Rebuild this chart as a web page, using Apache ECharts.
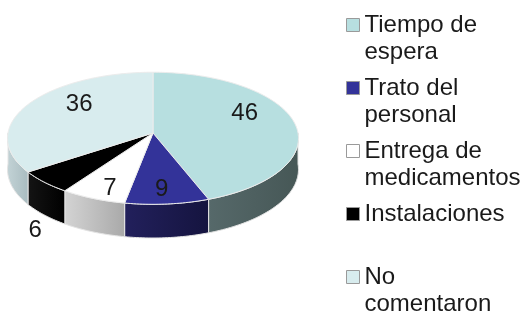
<!DOCTYPE html>
<html><head><meta charset="utf-8">
<script src="https://cdn.jsdelivr.net/npm/echarts@6/dist/echarts.min.js"></script>
<style>html,body{margin:0;padding:0;background:#fff}#c{width:529px;height:311px}</style>
</head><body><div id="c"></div>
<script>
// ---- data ----
const categories = ['Tiempo de espera', 'Trato del personal', 'Entrega de medicamentos', 'Instalaciones', 'No comentaron'];
const values = [46, 9, 7, 6, 36];
const legendLabels = ['Tiempo de\nespera', 'Trato del\npersonal', 'Entrega de\nmedicamentos', 'Instalaciones\n ', 'No\ncomentaron'];

// ---- style / layout ----
const topColors = ['#b7dfe0', '#333399', '#ffffff', '#000000', '#d8ecee'];
const sideColors = [['#56696a', '#465756'], ['#22205c', '#15143f'], ['#d4d4d4', '#a9a9a9'], ['#141414', '#000000'], ['#c3d3d6', '#a9bcc0']];
const labelShift = [[4, -12], [0, 14], [-7, 16], [-52, 68], [4, -10]];
const CX = 153, CY = 133, RX = 145, RY = 65.6, DEPTH = 31, PERSP = 0.08, LABEL_F = 0.62;

const TOTAL = values.reduce((a, b) => a + b, 0);
const starts = [];
values.reduce((acc, v) => { starts.push(acc); return acc + v; }, 0);

// perspective-projected point of the pie rim (f = radial fraction)
function pt(a, f, down) {
  f = f == null ? 1 : f;
  const s = 1 / (1 + PERSP * f * Math.cos(a));
  return [CX + RX * f * Math.sin(a) * s, CY - RY * f * Math.cos(a) * s + (down ? DEPTH * s : 0)];
}

function renderItem(params, api) {
  const i = params.seriesIndex;
  const start = api.value(0), val = api.value(1);
  const a1 = start / TOTAL * 2 * Math.PI, a2 = (start + val) / TOTAL * 2 * Math.PI;
  const children = [];
  const w1 = Math.max(a1, Math.PI / 2), w2 = Math.min(a2, 3 * Math.PI / 2);
  if (w2 > w1) {
    const n = Math.max(2, Math.ceil((w2 - w1) / 0.02));
    const pts = [];
    for (let k = 0; k <= n; k++) pts.push(pt(w1 + (w2 - w1) * k / n));
    for (let k = n; k >= 0; k--) pts.push(pt(w1 + (w2 - w1) * k / n, 1, true));
    children.push({
      type: 'polygon', shape: { points: pts },
      style: {
        fill: { type: 'linear', x: 0, y: 0, x2: 1, y2: 0, colorStops: [{ offset: 0, color: sideColors[i][0] }, { offset: 1, color: sideColors[i][1] }] },
        stroke: '#e4e4e4', lineWidth: 1
      }
    });
  }
  const n2 = Math.max(2, Math.ceil((a2 - a1) / 0.02));
  const tp = [[CX, CY]];
  for (let k = 0; k <= n2; k++) tp.push(pt(a1 + (a2 - a1) * k / n2));
  children.push({ type: 'polygon', shape: { points: tp }, style: { fill: topColors[i], stroke: '#ececec', lineWidth: 1 } });
  const lp = pt((a1 + a2) / 2, LABEL_F);
  children.push({
    type: 'text',
    x: lp[0] + labelShift[i][0],
    y: lp[1] + labelShift[i][1],
    style: { text: String(val), fontSize: 24, fontFamily: 'Liberation Sans', fill: '#1a1a1a', align: 'center', verticalAlign: 'middle' }
  });
  return { type: 'group', children: children };
}

const chart = echarts.init(document.getElementById('c'), null, { renderer: 'canvas' });
chart.setOption({
  animation: false,
  backgroundColor: '#ffffff',
  legend: {
    orient: 'vertical', left: 346, top: 11, height: 330, padding: 0, itemGap: 8,
    itemWidth: 13, itemHeight: 54,
    icon: 'path://M0,0 M0,7 L13,7 L13,20 L0,20 Z M0,54',
    itemStyle: { borderColor: '#9a9a9a', borderWidth: 1 },
    textStyle: { fontSize: 24, lineHeight: 27, fontFamily: 'Liberation Sans', color: '#1a1a1a' },
    data: categories,
    formatter: name => legendLabels[categories.indexOf(name)]
  },
  series: categories.map((c, i) => ({
    type: 'custom', name: c, coordinateSystem: 'none',
    itemStyle: { color: topColors[i] },
    data: [[starts[i], values[i]]],
    renderItem: renderItem
  }))
});
</script></body></html>
